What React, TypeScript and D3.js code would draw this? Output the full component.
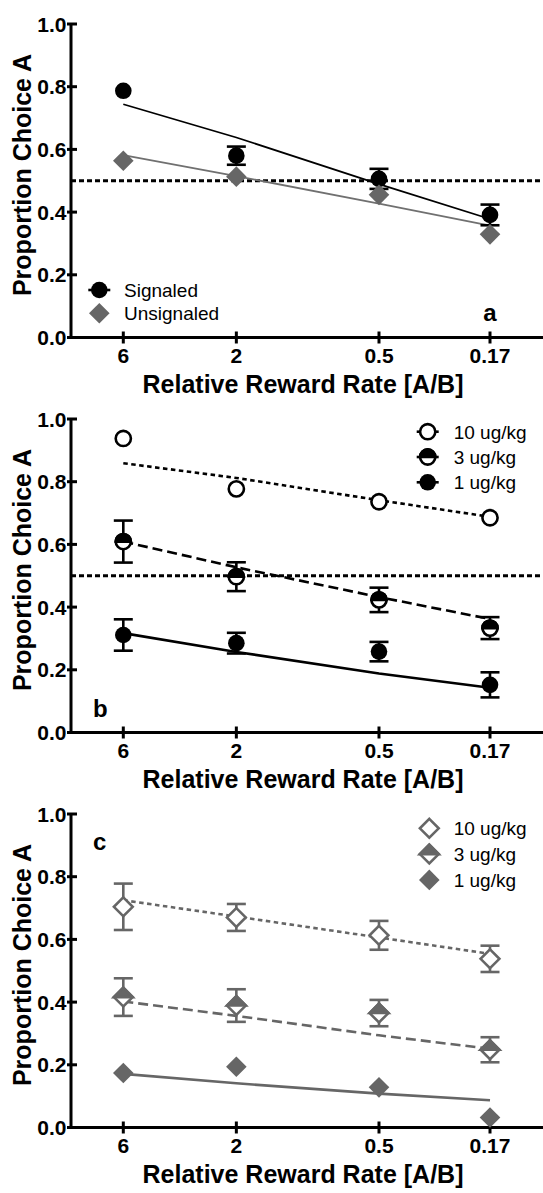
import React from 'react';
import * as d3 from 'd3';

// x categories (relative reward rate A/B) and axis ticks
const rates = [6, 2, 0.5, 0.17];
const rateLabels = ['6', '2', '0.5', '0.17'];
const yTicks = [0, 0.2, 0.4, 0.6, 0.8, 1.0];

// panel a
const signaledMean = [0.787, 0.58, 0.506, 0.391];
const signaledSem = [0, 0.029, 0.032, 0.033];
const signaledFit = [0.744, 0.638, 0.489, 0.378];
const unsignaledMean = [0.564, 0.513, 0.455, 0.329];
const unsignaledSem = [0, 0, 0, 0];
const unsignaledFit = [0.582, 0.515, 0.427, 0.357];

// panel b
const b10Mean = [0.938, 0.777, 0.736, 0.685];
const b10Sem = [0, 0, 0, 0];
const b10Fit = [0.859, 0.812, 0.741, 0.688];
const b3Mean = [0.609, 0.497, 0.423, 0.333];
const b3Sem = [0.067, 0.046, 0.039, 0.035];
const b3Fit = [0.609, 0.527, 0.432, 0.362];
const b1Mean = [0.311, 0.285, 0.258, 0.152];
const b1Sem = [0.05, 0.033, 0.031, 0.04];
const b1Fit = [0.317, 0.257, 0.188, 0.143];

// panel c
const c10Mean = [0.704, 0.67, 0.613, 0.538];
const c10Sem = [0.074, 0.043, 0.046, 0.042];
const c10Fit = [0.725, 0.673, 0.606, 0.554];
const c3Mean = [0.416, 0.389, 0.365, 0.248];
const c3Sem = [0.06, 0.052, 0.042, 0.04];
const c3Fit = [0.402, 0.356, 0.294, 0.251];
const c1Mean = [0.174, 0.194, 0.128, 0.032];
const c1Sem = [0, 0, 0, 0];
const c1Fit = [0.171, 0.141, 0.108, 0.087];

const FONT = "'Liberation Sans', Arial, Helvetica, sans-serif";
const GRAY = '#666666';

const x = d3.scaleLog().domain([6, 0.17]).range([123.3, 490]);
const y = d3.scaleLinear().domain([0, 1]).range([337.5, 24]);
const AXIS_X = 71;
const AXIS_RIGHT = 543;

function Marker({ cx, cy, shape, fill, color }) {
  if (shape === 'circle') {
    const r = fill === 'full' ? 8.3 : 7.6;
    if (fill === 'full') return <circle cx={cx} cy={cy} r={r} fill={color} />;
    return (
      <g>
        <circle cx={cx} cy={cy} r={r} fill="#fff" stroke={color} strokeWidth={2.6} />
        {fill === 'half' && (
          <path d={`M${cx - r},${cy} A${r},${r} 0 0 1 ${cx + r},${cy} Z`} fill={color} stroke={color} strokeWidth={2.6} />
        )}
      </g>
    );
  }
  const h = fill === 'full' ? 10.3 : 9.4;
  const dia = `M${cx},${cy - h} L${cx + h},${cy} L${cx},${cy + h} L${cx - h},${cy} Z`;
  if (fill === 'full') return <path d={dia} fill={color} />;
  return (
    <g>
      <path d={dia} fill="#fff" stroke={color} strokeWidth={2.6} />
      {fill === 'half' && (
        <path d={`M${cx - h},${cy} L${cx},${cy - h} L${cx + h},${cy} Z`} fill={color} stroke={color} strokeWidth={2.6} strokeLinejoin="miter" />
      )}
    </g>
  );
}

function Panel({ offset, series, refLine, label, legend }) {
  const line = d3.line<number>()
    .x((d, i) => x(rates[i]))
    .y(d => y(d));
  return (
    <g transform={`translate(0,${offset})`}>
      {refLine && (
        <line x1={AXIS_X} x2={AXIS_RIGHT} y1={y(0.5)} y2={y(0.5)} stroke="#000" strokeWidth={2.8} strokeDasharray="5,3" />
      )}
      {/* axes */}
      <line x1={AXIS_X} x2={AXIS_X} y1={y(1) - 1} y2={y(0) + 1.5} stroke="#000" strokeWidth={3} />
      <line x1={AXIS_X - 1.5} x2={AXIS_RIGHT} y1={y(0)} y2={y(0)} stroke="#000" strokeWidth={3} />
      {yTicks.map(t => (
        <g key={t}>
          <line x1={AXIS_X - 4} x2={AXIS_X + 6} y1={y(t)} y2={y(t)} stroke="#000" strokeWidth={3} />
          <text x={66.5} y={y(t)} dy="0.36em" textAnchor="end" fontFamily={FONT} fontWeight="bold" fontSize={21}>{t.toFixed(1)}</text>
        </g>
      ))}
      {rates.map((r, i) => (
        <g key={r}>
          <line x1={x(r)} x2={x(r)} y1={y(0) - 6} y2={y(0) + 6} stroke="#000" strokeWidth={3} />
          <text x={x(r)} y={363} textAnchor="middle" fontFamily={FONT} fontWeight="bold" fontSize={21}>{rateLabels[i]}</text>
        </g>
      ))}
      <text x={303} y={393} textAnchor="middle" fontFamily={FONT} fontWeight="bold" fontSize={25}>Relative Reward Rate [A/B]</text>
      <text transform={`translate(31,175) rotate(-90)`} textAnchor="middle" fontFamily={FONT} fontWeight="bold" fontSize={25}>Proportion Choice A</text>

      {/* fits */}
      {series.map((s, k) => (
        <path key={'f' + k} d={line(s.fit)} fill="none" stroke={s.lineColor} strokeWidth={s.fitWidth} strokeDasharray={s.dash} />
      ))}
      {/* error bars */}
      {series.map((s, k) => s.mean.map((m, i) => {
        if (!s.sem[i]) return null;
        const cx = x(rates[i]);
        const y1 = y(m + s.sem[i]);
        const y2 = y(m - s.sem[i]);
        return (
          <g key={'e' + k + '-' + i} stroke={s.color} strokeWidth={2.6}>
            <line x1={cx} x2={cx} y1={y1} y2={y2} />
            <line x1={cx - 9.5} x2={cx + 9.5} y1={y1} y2={y1} />
            <line x1={cx - 9.5} x2={cx + 9.5} y1={y2} y2={y2} />
          </g>
        );
      }))}
      {/* markers */}
      {series.map((s, k) => s.mean.map((m, i) => (
        <Marker key={'m' + k + '-' + i} cx={x(rates[i])} cy={y(m)} shape={s.shape} fill={s.fill} color={s.color} />
      )))}

      {/* legend */}
      {series.map((s, k) => {
        const ly = legend.y + k * legend.step;
        return (
          <g key={'l' + k}>
            {s.legendLine && (
              <line x1={legend.x - 11} x2={legend.x + 11} y1={ly} y2={ly} stroke={s.color} strokeWidth={2.6} />
            )}
            <Marker cx={legend.x} cy={ly} shape={s.shape} fill={s.fill} color={s.color} />
            <text x={legend.tx} y={ly + 7} fontFamily={FONT} fontSize={19} fill="#000">{s.label}</text>
          </g>
        );
      })}
      <text x={label.x} y={label.y} textAnchor={label.anchor} fontFamily={FONT} fontWeight="bold" fontSize={24}>{label.text}</text>
    </g>
  );
}

const panelA = [
  { label: 'Signaled', mean: signaledMean, sem: signaledSem, fit: signaledFit, shape: 'circle', fill: 'full', color: '#000', lineColor: '#000', fitWidth: 1.8, dash: null, legendLine: true },
  { label: 'Unsignaled', mean: unsignaledMean, sem: unsignaledSem, fit: unsignaledFit, shape: 'diamond', fill: 'full', color: GRAY, lineColor: '#707070', fitWidth: 1.8, dash: null, legendLine: false },
];

const panelB = [
  { label: '10 ug/kg', mean: b10Mean, sem: b10Sem, fit: b10Fit, shape: 'circle', fill: 'open', color: '#000', lineColor: '#000', fitWidth: 2.6, dash: '4.5,3.5', legendLine: true },
  { label: '3 ug/kg', mean: b3Mean, sem: b3Sem, fit: b3Fit, shape: 'circle', fill: 'half', color: '#000', lineColor: '#000', fitWidth: 2.6, dash: '10,5', legendLine: true },
  { label: '1 ug/kg', mean: b1Mean, sem: b1Sem, fit: b1Fit, shape: 'circle', fill: 'full', color: '#000', lineColor: '#000', fitWidth: 2.6, dash: null, legendLine: true },
];

const panelC = [
  { label: '10 ug/kg', mean: c10Mean, sem: c10Sem, fit: c10Fit, shape: 'diamond', fill: 'open', color: GRAY, lineColor: GRAY, fitWidth: 2.6, dash: '4.5,3.5', legendLine: false },
  { label: '3 ug/kg', mean: c3Mean, sem: c3Sem, fit: c3Fit, shape: 'diamond', fill: 'half', color: GRAY, lineColor: GRAY, fitWidth: 2.6, dash: '10,5', legendLine: false },
  { label: '1 ug/kg', mean: c1Mean, sem: c1Sem, fit: c1Fit, shape: 'diamond', fill: 'full', color: GRAY, lineColor: GRAY, fitWidth: 2.6, dash: null, legendLine: false },
];

export default function App() {
  return (
    <div style={{ position: 'absolute', left: 0, top: 0 }}>
      <svg width={543} height={1193} style={{ display: 'block', background: '#fff' }}>
        <Panel offset={0} series={panelA} refLine={true}
          legend={{ x: 99.3, tx: 124, y: 290, step: 23.3 }}
          label={{ text: 'a', x: 490, y: 321, anchor: 'middle' }} />
        <Panel offset={395} series={panelB} refLine={true}
          legend={{ x: 427.7, tx: 453.7, y: 36.7, step: 25.3 }}
          label={{ text: 'b', x: 93, y: 321.7, anchor: 'start' }} />
        <Panel offset={790} series={panelC} refLine={false}
          legend={{ x: 429.3, tx: 453.7, y: 38.3, step: 25.8 }}
          label={{ text: 'c', x: 93, y: 60, anchor: 'start' }} />
      </svg>
    </div>
  );
}
